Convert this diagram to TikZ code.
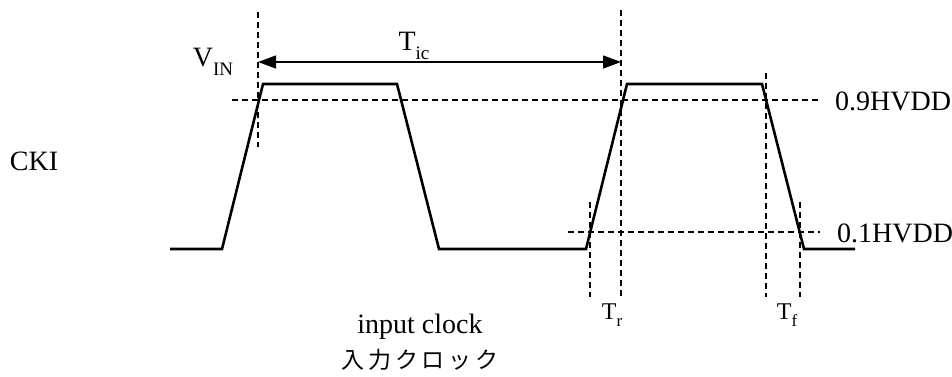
\documentclass[tikz,border=0pt]{standalone}
\usepackage{fontspec}
\setmainfont{Liberation Serif}
\newfontfamily\jpfont[LetterSpace=16]{Noto Sans CJK JP}
\usepackage{tikz}
\usetikzlibrary{arrows.meta}
\newcommand{\lowsub}[2][19]{\raisebox{-0.3em}{\fontsize{#1}{#1}\selectfont #2}}

\begin{document}
\begin{tikzpicture}[
    x=1pt, y=-1pt,
    wave/.style={line width=2.6pt, line join=miter},
    guide/.style={line width=1.1pt, dash pattern=on 6pt off 4pt},
    label/.style={inner sep=0pt, font=\fontsize{28}{32}\selectfont},
    small/.style={inner sep=0pt, font=\fontsize{24}{28}\selectfont},
    period/.style={{Triangle[length=18pt,width=13pt]}-{Triangle[length=18pt,width=13pt]}, line width=1.3pt}
]
    \useasboundingbox (0,0) rectangle (952,377);

    % waveform corners
    \coordinate (w0) at (170,249);
    \coordinate (w1) at (222,249);
    \coordinate (w2) at (263,84);
    \coordinate (w3) at (397,84);
    \coordinate (w4) at (439,249);
    \coordinate (w5) at (586,249);
    \coordinate (w6) at (627,84);
    \coordinate (w7) at (762,84);
    \coordinate (w8) at (804,249);
    \coordinate (w9) at (855,249);
    \draw[wave] (w0) -- (w1) -- (w2) -- (w3) -- (w4) -- (w5) -- (w6) -- (w7) -- (w8) -- (w9);

    % guide lines
    \coordinate (vinT) at (258,12);   \coordinate (vinB) at (258,147);
    \coordinate (ticT) at (621,10);   \coordinate (ticB) at (621,297);
    \coordinate (trT) at (590,202);   \coordinate (trB) at (590,297);
    \coordinate (tfaT) at (766,73);   \coordinate (tfaB) at (766,297);
    \coordinate (tfbT) at (800,202);  \coordinate (tfbB) at (800,297);
    \coordinate (hiL) at (232,100);   \coordinate (hiR) at (820,100);
    \coordinate (loL) at (568,232);   \coordinate (loR) at (820,232);
    \draw[guide] (vinT) -- (vinB);
    \draw[guide] (ticT) -- (ticB);
    \draw[guide] (trT) -- (trB);
    \draw[guide] (tfaT) -- (tfaB);
    \draw[guide] (tfbT) -- (tfbB);
    \draw[guide] (hiL) -- (hiR);
    \draw[guide] (loL) -- (loR);

    % period arrow
    \coordinate (tic1) at (258,62);
    \coordinate (tic2) at (621,62);
    \draw[period] (tic1) -- (tic2);

    \node[label] (cki) at (34,161) {CKI};
    \node[label] (vin) at (213,62) {V\lowsub{IN}};
    \node[label] (tic) at (414,46) {T\lowsub{ic}};
    \node[label, anchor=west] (hi) at (835,101) {0.9HVDD};
    \node[label, anchor=west] (lo) at (837,233) {0.1HVDD};
    \node[small] (tr) at (612,315) {T\lowsub[17]{r}};
    \node[small] (tf) at (787,315) {T\lowsub[17]{f}};
    \node[label] (inclk) at (420,327) {input clock};
    \node[inner sep=0pt, font=\fontsize{23}{26}\selectfont\jpfont] (inclkjp) at (420,360) {入力クロック};
\end{tikzpicture}
\end{document}
